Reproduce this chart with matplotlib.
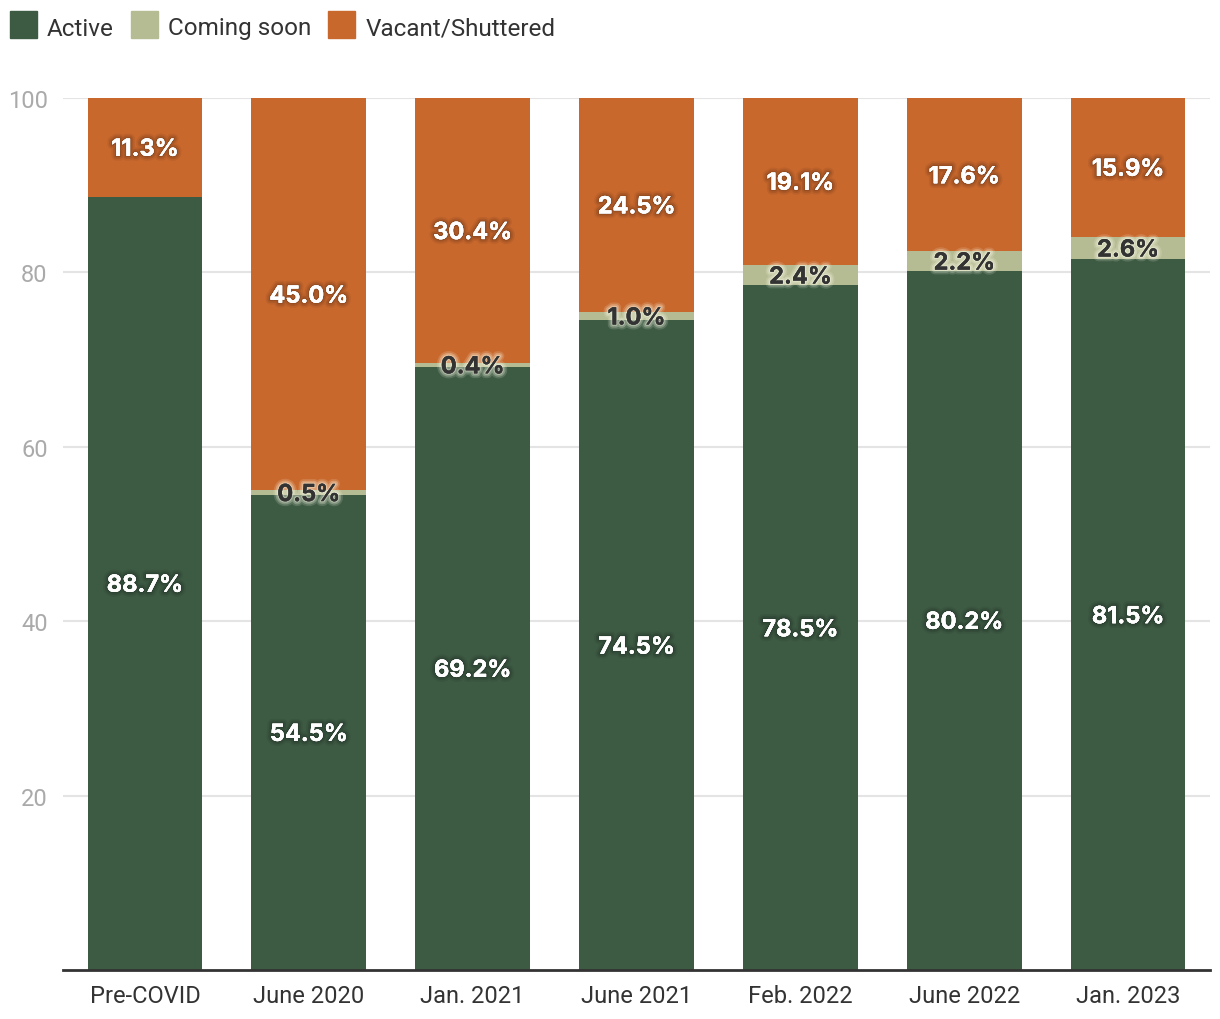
import matplotlib.pyplot as plt
import matplotlib.patheffects as pe
from matplotlib.patches import Rectangle
import numpy as np

# Data
periods = ["Pre-COVID", "June 2020", "Jan. 2021", "June 2021", "Feb. 2022", "June 2022", "Jan. 2023"]
active = [88.7, 54.5, 69.2, 74.5, 78.5, 80.2, 81.5]
coming_soon = [0.0, 0.5, 0.4, 1.0, 2.4, 2.2, 2.6]
vacant = [11.3, 45.0, 30.4, 24.5, 19.1, 17.6, 15.9]
series_names = ["Active", "Coming soon", "Vacant/Shuttered"]

c_active = "#3d5a43"
c_soon = "#b5bb93"
c_vacant = "#c8682d"
colors = [c_active, c_soon, c_vacant]
txt_dark = "#333333"

plt.rcParams["font.family"] = ["Roboto", "DejaVu Sans"]

W, H = 1220, 1020
fig = plt.figure(figsize=(W / 100, H / 100), dpi=100)
ax = fig.add_axes([63 / W, 1 - 971 / H, (1210 - 63) / W, (971 - 99) / H])

x = np.arange(len(periods))
w = 0.70
active = np.array(active)
coming_soon = np.array(coming_soon)
vacant = np.array(vacant)

ax.bar(x, active, w, color=c_active, zorder=3)
ax.bar(x, coming_soon, w, bottom=active, color=c_soon, zorder=3)
ax.bar(x, vacant, w, bottom=active + coming_soon, color=c_vacant, zorder=3)

# soft shadow / glow around the labels
white_fx = [pe.withStroke(linewidth=7, foreground=(0, 0, 0, 0.06)),
            pe.withStroke(linewidth=4.5, foreground=(0, 0, 0, 0.09)),
            pe.withStroke(linewidth=2, foreground=(0, 0, 0, 0.12)),
            pe.Normal()]
dark_fx = [pe.withStroke(linewidth=7, foreground=(1, 1, 0.92, 0.15)),
           pe.withStroke(linewidth=4.5, foreground=(1, 1, 0.92, 0.25)),
           pe.withStroke(linewidth=2, foreground=(1, 1, 0.92, 0.35)),
           pe.Normal()]
lab_kw = dict(ha="center", va="center_baseline", fontsize=17, fontweight="bold",
              family=["Inter", "DejaVu Sans"], zorder=5)

for i in range(len(periods)):
    ax.text(x[i], active[i] / 2, f"{active[i]:.1f}%", color="white",
            path_effects=white_fx, **lab_kw)
    if coming_soon[i] > 0:
        ax.text(x[i], active[i] + coming_soon[i] / 2, f"{coming_soon[i]:.1f}%",
                color=txt_dark, path_effects=dark_fx, **lab_kw)
    ax.text(x[i], active[i] + coming_soon[i] + vacant[i] / 2, f"{vacant[i]:.1f}%",
            color="white", path_effects=white_fx, **lab_kw)

ax.set_xlim(-0.5, 6.5)
ax.set_ylim(0, 100)
ax.set_yticks([20, 40, 60, 80, 100])
ax.set_xticks(x)
ax.set_xticklabels(periods)
ax.tick_params(axis="y", length=0, pad=11, labelsize=17, labelcolor="#aaaaaa")
ax.tick_params(axis="x", length=0, pad=10, labelsize=17, labelcolor=txt_dark)
ax.grid(axis="y", color="#e4e4e4", linewidth=1.5, zorder=0)

for s in ["top", "right", "left"]:
    ax.spines[s].set_visible(False)
ax.spines["bottom"].set_color(txt_dark)
ax.spines["bottom"].set_linewidth(2)
ax.spines["bottom"].set_zorder(4)

# legend: squares + labels along the top
renderer = fig.canvas.get_renderer()
cursor = 10
sq = 27
for name, col in zip(series_names, colors):
    fig.patches.append(Rectangle((cursor / W, 1 - 39 / H), sq / W, sq / H,
                                 transform=fig.transFigure, color=col))
    t = fig.text((cursor + sq + 10) / W, 1 - 26.5 / H, name, fontsize=17.5,
                 color=txt_dark, ha="left", va="center_baseline")
    bb = t.get_window_extent(renderer)
    cursor = bb.x1 + 17

fig.savefig("out.png", dpi=100, facecolor="white")
